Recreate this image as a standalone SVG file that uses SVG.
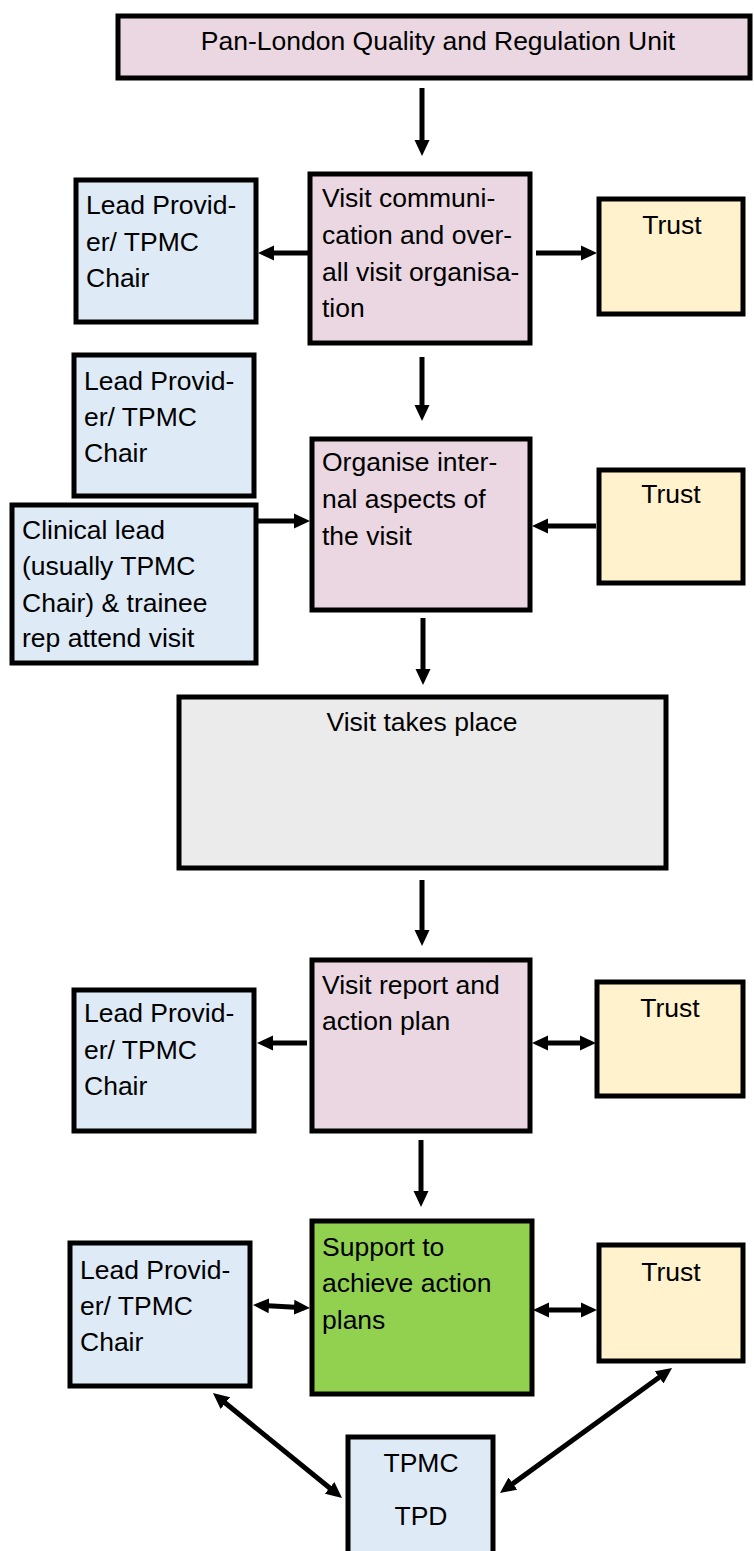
<svg xmlns="http://www.w3.org/2000/svg" width="754" height="1551" viewBox="0 0 754 1551">
<defs>
<style>
.box{stroke:#000;stroke-width:5}
.pink{fill:#EAD7E1}
.blue{fill:#DEEAF6}
.yellow{fill:#FFF2CC}
.grey{fill:#EBEBEB}
.green{fill:#92D050}
text{font-family:"Liberation Sans",Arial,sans-serif;font-size:26.5px;fill:#000}
.c{text-anchor:middle}
.conn line{stroke:#000;stroke-width:5}
</style>
<marker id="ah" markerUnits="userSpaceOnUse" markerWidth="17" markerHeight="16" refX="10" refY="8" orient="auto-start-reverse" viewBox="0 0 17 16">
<path d="M0,0.5 L16,8 L0,15.5 Z" fill="#000"/>
</marker>
</defs>
<rect width="754" height="1551" fill="#fff"/>

<g id="pan-london">
<rect class="box pink" x="118" y="16" width="632" height="62"/>
<text class="c" x="438" y="50">Pan-London Quality and Regulation Unit</text>
</g>

<g id="lp1">
<rect class="box blue" x="76" y="180" width="180" height="142"/>
<text x="86" y="214">Lead Provid-</text>
<text x="86" y="251">er/ TPMC</text>
<text x="86" y="287">Chair</text>
</g>
<g id="visit-comm">
<rect class="box pink" x="310" y="174" width="220" height="169"/>
<text x="322" y="207">Visit communi-</text>
<text x="322" y="244">cation and over-</text>
<text x="322" y="281">all visit organisa-</text>
<text x="322" y="317">tion</text>
</g>
<g id="trust1">
<rect class="box yellow" x="599" y="199" width="144" height="115"/>
<text class="c" x="672" y="234">Trust</text>
</g>

<g id="lp2">
<rect class="box blue" x="74" y="355" width="180" height="141"/>
<text x="84" y="390">Lead Provid-</text>
<text x="84" y="426">er/ TPMC</text>
<text x="84" y="462">Chair</text>
</g>
<g id="clinical">
<rect class="box blue" x="12" y="505" width="244" height="158"/>
<text x="22" y="539">Clinical lead</text>
<text x="22" y="575">(usually TPMC</text>
<text x="22" y="612">Chair) &amp; trainee</text>
<text x="22" y="647">rep attend visit</text>
</g>
<g id="organise">
<rect class="box pink" x="312" y="439" width="218" height="171"/>
<text x="322" y="471">Organise inter-</text>
<text x="322" y="508">nal aspects of</text>
<text x="322" y="545">the visit</text>
</g>
<g id="trust2">
<rect class="box yellow" x="599" y="470" width="144" height="113"/>
<text class="c" x="671" y="503">Trust</text>
</g>

<g id="visit-takes-place">
<rect class="box grey" x="179" y="697" width="487" height="171"/>
<text class="c" x="422" y="731">Visit takes place</text>
</g>

<g id="lp3">
<rect class="box blue" x="74" y="990" width="180" height="141"/>
<text x="84" y="1022">Lead Provid-</text>
<text x="84" y="1059">er/ TPMC</text>
<text x="84" y="1095">Chair</text>
</g>
<g id="visit-report">
<rect class="box pink" x="312" y="960" width="218" height="171"/>
<text x="322" y="994">Visit report and</text>
<text x="322" y="1030">action plan</text>
</g>
<g id="trust3">
<rect class="box yellow" x="597" y="982" width="146" height="114"/>
<text class="c" x="670" y="1017">Trust</text>
</g>

<g id="lp4">
<rect class="box blue" x="70" y="1243" width="180" height="143"/>
<text x="80" y="1279">Lead Provid-</text>
<text x="80" y="1315">er/ TPMC</text>
<text x="80" y="1351">Chair</text>
</g>
<g id="support">
<rect class="box green" x="312" y="1221" width="220" height="173"/>
<text x="322" y="1256">Support to</text>
<text x="322" y="1292">achieve action</text>
<text x="322" y="1329">plans</text>
</g>
<g id="trust4">
<rect class="box yellow" x="599" y="1245" width="144" height="116"/>
<text class="c" x="671" y="1281">Trust</text>
</g>

<g id="tpmc">
<rect class="box blue" x="348" y="1437" width="145" height="130"/>
<text class="c" x="421" y="1472">TPMC</text>
<text class="c" x="421" y="1525">TPD</text>
</g>

<g id="connectors" class="conn">
<line x1="422" y1="88" x2="422" y2="150" marker-end="url(#ah)"/>
<line x1="308" y1="253" x2="264" y2="253" marker-end="url(#ah)"/>
<line x1="536" y1="253" x2="591" y2="253" marker-end="url(#ah)"/>
<line x1="422" y1="357" x2="422" y2="415" marker-end="url(#ah)"/>
<line x1="258" y1="521" x2="304" y2="521" marker-end="url(#ah)"/>
<line x1="596" y1="526" x2="538" y2="526" marker-end="url(#ah)"/>
<line x1="423" y1="618" x2="423" y2="679" marker-end="url(#ah)"/>
<line x1="422" y1="880" x2="422" y2="940" marker-end="url(#ah)"/>
<line x1="307" y1="1043" x2="263" y2="1043" marker-end="url(#ah)"/>
<line x1="538" y1="1043" x2="590" y2="1043" marker-start="url(#ah)" marker-end="url(#ah)"/>
<line x1="421" y1="1140" x2="421" y2="1201" marker-end="url(#ah)"/>
<line x1="259" y1="1305.3" x2="304" y2="1307.7" marker-start="url(#ah)" marker-end="url(#ah)"/>
<line x1="539" y1="1310" x2="591" y2="1310" marker-start="url(#ah)" marker-end="url(#ah)"/>
<line x1="217.6" y1="1396.8" x2="337.4" y2="1494.2" marker-start="url(#ah)" marker-end="url(#ah)"/>
<line x1="667.2" y1="1371.5" x2="504.8" y2="1489.5" marker-start="url(#ah)" marker-end="url(#ah)"/>
</g>
</svg>
